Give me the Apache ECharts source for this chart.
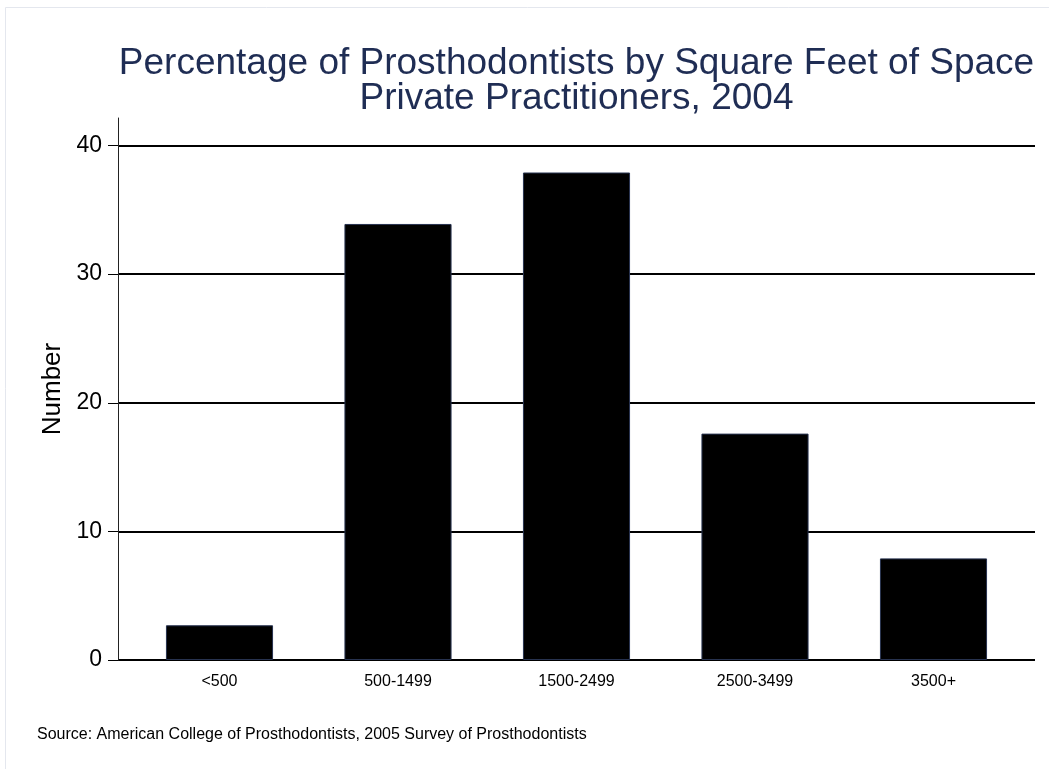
<!DOCTYPE html>
<html>
<head>
<meta charset="utf-8">
<script src="https://cdn.jsdelivr.net/npm/echarts@6/dist/echarts.min.js"></script>
<style>
html,body{margin:0;padding:0;background:#fff;}
#chart{width:1049px;height:769px;}
</style>
</head>
<body>
<div id="chart"></div>
<script>
var categories = ['<500', '500-1499', '1500-2499', '2500-3499', '3500+'];
var values = [2.7, 33.9, 37.9, 17.6, 7.9];
var yTicks = [0, 10, 20, 30, 40];
var titleLines = ['Percentage of Prosthodontists by Square Feet of Space', 'Private Practitioners, 2004'];
var yName = 'Number';
var sourceText = 'Source: American College of Prosthodontists, 2005 Survey of Prosthodontists';

var FONT = '"Liberation Sans", Arial, Helvetica, sans-serif';
var YMAX = yTicks[yTicks.length - 1];
var AXIS_TOP_MAX = 42.14;

var chart = echarts.init(document.getElementById('chart'), null, {renderer: 'canvas'});
chart.setOption({
  backgroundColor: '#ffffff',
  animation: false,
  textStyle: {fontFamily: FONT},
  graphic: [
    {type: 'line', shape: {x1: 5.5, y1: 7.5, x2: 1049, y2: 7.5}, style: {stroke: '#e4e7ee', lineWidth: 1}, silent: true},
    {type: 'line', shape: {x1: 5.5, y1: 7.5, x2: 5.5, y2: 769}, style: {stroke: '#e4e7ee', lineWidth: 1}, silent: true},
    {type: 'text', x: 576.5, y: 64, style: {text: titleLines[0], font: '37px ' + FONT, fill: '#1f2d54', align: 'center', verticalAlign: 'middle'}},
    {type: 'text', x: 576.5, y: 99, style: {text: titleLines[1], font: '37px ' + FONT, fill: '#1f2d54', align: 'center', verticalAlign: 'middle'}},
    {type: 'text', x: 37, y: 735, style: {text: sourceText, font: '16px ' + FONT, fill: '#000', align: 'left', verticalAlign: 'middle'}}
  ],
  grid: [
    {left: 118, right: 14, top: 145.5, bottom: 109, containLabel: false},
    {left: 130.25, right: 26.25, top: 145.5, bottom: 109, containLabel: false},
    {left: 118, right: 14, top: 118, bottom: 109, containLabel: false}
  ],
  xAxis: [
    {gridIndex: 0, type: 'category', data: categories, show: false},
    {gridIndex: 1, type: 'category', data: categories,
     axisLine: {show: false}, axisTick: {show: false},
     axisLabel: {fontSize: 16, color: '#000', margin: 14, fontFamily: FONT}},
    {gridIndex: 2, type: 'category', data: categories, show: false}
  ],
  yAxis: [
    {gridIndex: 0, type: 'value', min: 0, max: YMAX, interval: 10,
     axisLine: {show: false},
     axisTick: {show: true, length: 10, lineStyle: {color: '#000', width: 1}},
     axisLabel: {fontSize: 23, color: '#000', margin: 16, fontFamily: FONT},
     splitLine: {show: true, lineStyle: {color: '#000', width: 2}}},
    {gridIndex: 1, type: 'value', min: 0, max: YMAX, show: false, splitLine: {show: false}},
    {gridIndex: 2, type: 'value', min: 0, max: AXIS_TOP_MAX,
     name: yName, nameLocation: 'middle', nameGap: 52, nameRotate: 90,
     nameTextStyle: {fontSize: 26, color: '#000', fontFamily: FONT},
     axisLine: {show: true, lineStyle: {color: '#222', width: 1}},
     axisTick: {show: false}, axisLabel: {show: false}, splitLine: {show: false}}
  ],
  series: [{
    type: 'bar', xAxisIndex: 1, yAxisIndex: 1, data: values, barWidth: '60%',
    itemStyle: {color: '#000', borderColor: '#27324f', borderWidth: 1},
    z: 5
  }]
});
</script>
</body>
</html>
